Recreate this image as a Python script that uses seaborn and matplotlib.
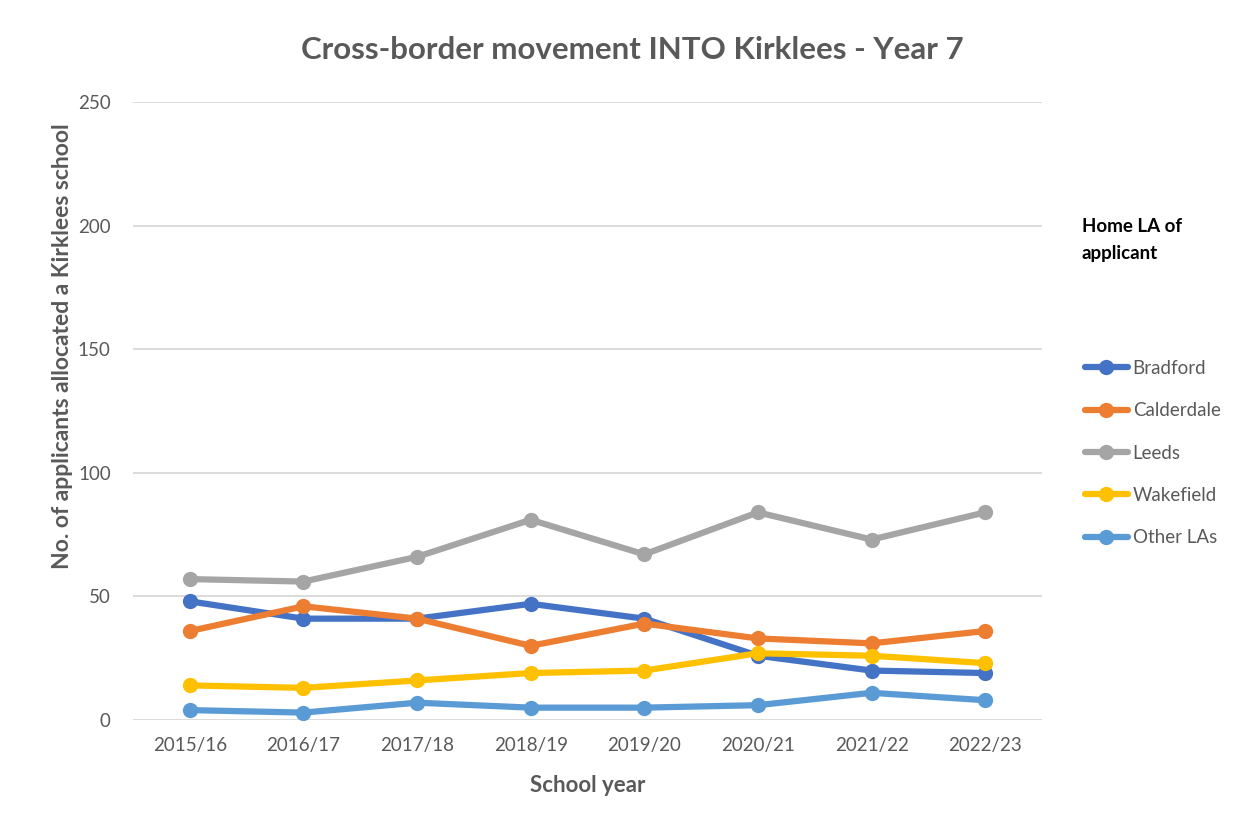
import pandas as pd
import seaborn as sns
from matplotlib import pyplot as plt

# Datos
years = ["2015/16", "2016/17", "2017/18", "2018/19", "2019/20", "2020/21", "2021/22", "2022/23"]
bradford = [48, 41, 41, 47, 41, 26, 20, 19]
calderdale = [36, 46, 41, 30, 39, 33, 31, 36]
leeds = [57, 56, 66, 81, 67, 84, 73, 84]
wakefield = [14, 13, 16, 19, 20, 27, 26, 23]
other = [4, 3, 7, 5, 5, 6, 11, 8]

series = {"Bradford": bradford, "Calderdale": calderdale, "Leeds": leeds,
          "Wakefield": wakefield, "Other LAs": other}
colores = ["#4472C4", "#ED7D31", "#A5A5A5", "#FFC000", "#5B9BD5"]

df = pd.DataFrame([(y, la, v) for la, vals in series.items() for y, v in zip(years, vals)],
                  columns=["year", "la", "value"])
df["pos"] = df["year"].map({y: i for i, y in enumerate(years)})

sns.set_style("white")
plt.rcParams["font.family"] = ["Lato", "DejaVu Sans"]

fig = plt.figure(figsize=(12.54, 8.23), dpi=100)
ax = fig.add_axes([133 / 1254, 1 - 720 / 823, (1042 - 133) / 1254, (720 - 102) / 823])

sns.lineplot(data=df, x="pos", y="value", hue="la", palette=colores, marker="o",
             markersize=11, markeredgewidth=0, linewidth=4.5, ax=ax, legend=False)

gris = "#595959"
ax.set_xlim(-0.5, 7.5)
ax.set_ylim(0, 250)
ax.set_yticks(range(0, 251, 50))
ax.set_xticks(range(len(years)))
ax.set_xticklabels(years)
ax.yaxis.grid(True, color="#D9D9D9", linewidth=1.3)
ax.set_axisbelow(True)
for s in ax.spines.values():
    s.set_visible(False)
ax.tick_params(axis="both", length=0, labelsize=13.5, colors=gris)
ax.tick_params(axis="x", pad=12)
ax.tick_params(axis="y", pad=16)

ax.set_xlabel("School year", fontsize=16, fontweight="bold", color=gris, labelpad=15)
ax.set_ylabel("No. of applicants allocated a Kirklees school", fontsize=16.5,
              fontweight="bold", color=gris)
ax.yaxis.set_label_coords(-0.066, (720 - 346) / 618)

fig.text(0.504, 1 - 50 / 823, "Cross-border movement INTO Kirklees - Year 7",
         ha="center", va="center", fontsize=22.5, fontweight="bold", color=gris)

# Leyenda
handles = [plt.Line2D([], [], color=c, linewidth=4.5, marker="o", markersize=11,
                      markeredgewidth=0) for c in colores]
fig.text(1082 / 1254, 1 - 240 / 823, "Home LA of\napplicant", ha="left", va="center",
         fontsize=13.5, fontweight="bold", color="black", linespacing=1.75)
leg = fig.legend(handles, list(series.keys()), loc="upper left",
                 bbox_to_anchor=(1068 / 1254, 1 - 343 / 823), frameon=False,
                 fontsize=13.5, handlelength=2.3, handletextpad=0.25, labelspacing=1.35)
for t in leg.get_texts():
    t.set_color(gris)

fig.savefig("out.png", dpi=100)
